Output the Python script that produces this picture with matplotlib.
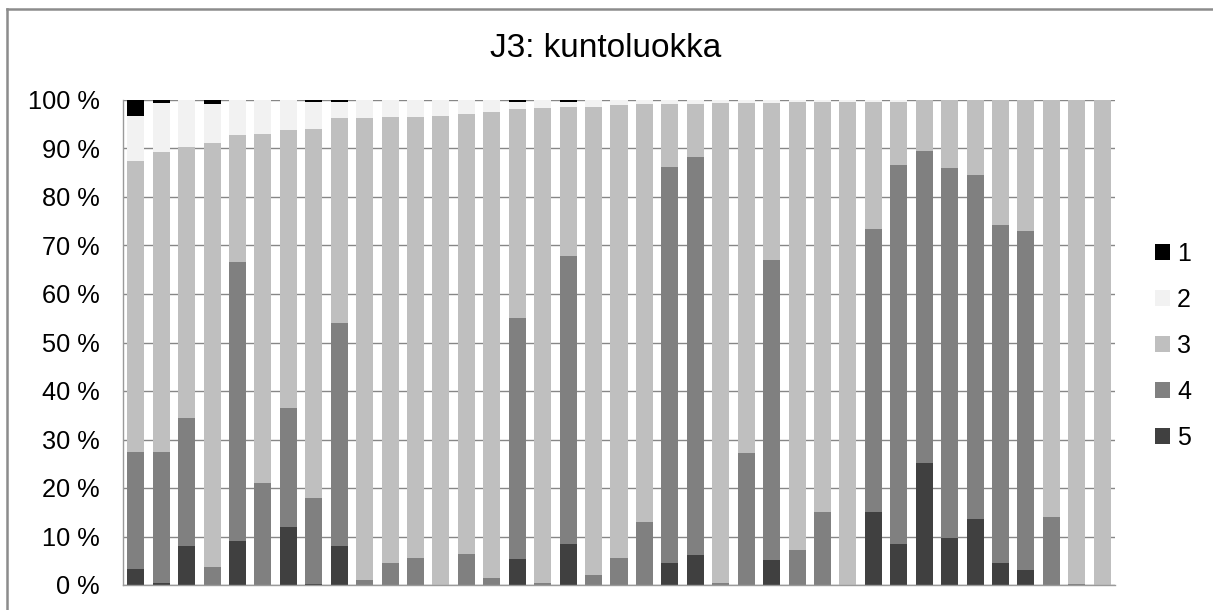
import numpy as np
import matplotlib
matplotlib.use('Agg')
import matplotlib.pyplot as plt
from matplotlib.lines import Line2D

plt.rcParams['font.family'] = ['Liberation Sans', 'DejaVu Sans']

# Share of each condition class (1..5) per bar, in percent
luokka_5 = [3.3, 0.4, 8.0, 0, 9.1, 0, 12.0, 0.3, 8.0, 0, 0, 0, 0, 0, 0, 5.4, 0, 8.5, 0, 0,
            0, 4.5, 6.1, 0, 0, 5.1, 0, 0, 0, 15.1, 8.5, 25.2, 9.6, 13.6, 4.5, 3.0, 0, 0, 0]
luokka_4 = [24.2, 27.1, 26.5, 3.8, 57.4, 21.0, 24.4, 17.7, 46.1, 1.1, 4.5, 5.6, 0, 6.4, 1.4,
            49.7, 0.4, 59.3, 2.1, 5.6, 13.0, 81.7, 82.2, 0.4, 27.3, 62.0, 7.2, 15.1, 0, 58.3,
            78.0, 64.2, 76.3, 71.0, 69.8, 70.0, 14.0, 0.3, 0]
luokka_3 = [59.9, 61.8, 55.9, 87.4, 26.3, 72.0, 57.5, 76.1, 42.1, 95.1, 92.0, 90.9, 96.8, 90.8,
            96.1, 43.0, 97.9, 30.8, 96.5, 93.3, 86.2, 13.0, 10.9, 99.0, 72.1, 32.3, 92.4, 84.5,
            99.6, 26.2, 13.1, 10.6, 14.1, 15.4, 25.7, 27.0, 86.0, 99.7, 100]
luokka_2 = [9.4, 10.1, 9.6, 7.9, 7.2, 7.0, 6.1, 5.5, 3.4, 3.8, 3.5, 3.5, 3.2, 2.8, 2.5, 1.5, 1.7,
            1.0, 1.4, 1.1, 0.8, 0.8, 0.8, 0.6, 0.6, 0.6, 0.4, 0.4, 0.4, 0.4, 0.4, 0, 0, 0, 0, 0,
            0, 0, 0]
luokka_1 = [3.2, 0.6, 0, 0.9, 0, 0, 0, 0.4, 0.4, 0, 0, 0, 0, 0, 0, 0.4, 0, 0.4, 0, 0,
            0, 0, 0, 0, 0, 0, 0, 0, 0, 0, 0, 0, 0, 0, 0, 0, 0, 0, 0]

labels = ['5', '4', '3', '2', '1']
colors = ['#404040', '#808080', '#bfbfbf', '#f2f2f2', '#000000']
series = [luokka_5, luokka_4, luokka_3, luokka_2, luokka_1]

fig = plt.figure(figsize=(12.13, 6.10), dpi=100)
ax = fig.add_axes([123 / 1213, 1 - 585 / 610, (1115 - 123) / 1213, (585 - 100) / 610])

x = np.arange(len(luokka_5))
bottom = np.zeros(len(x))
handles = {}
for name, col, vals in zip(labels, colors, series):
    vals = np.array(vals, dtype=float)
    b = ax.bar(x, vals, bottom=bottom, width=0.67, color=col, linewidth=0, zorder=2)
    handles[name] = b
    bottom += vals

ax.set_xlim(-0.5, len(x) - 0.5)
ax.set_ylim(0, 100)
ax.set_yticks(np.arange(0, 101, 10))
ax.set_yticklabels(['{} %'.format(v) for v in range(0, 101, 10)], fontsize=18.3)
ax.tick_params(axis='y', length=0, pad=17)
ax.set_xticks([])
ax.yaxis.grid(True, color='#878787', linewidth=1.0, zorder=0)
ax.set_axisbelow(True)
for side in ['top', 'right']:
    ax.spines[side].set_visible(False)
for side in ['left', 'bottom']:
    ax.spines[side].set_color('#9a9a9a')
    ax.spines[side].set_linewidth(1.0)

# Title
fig.text(606 / 1213, 1 - 57 / 610, 'J3: kuntoluokka', ha='center', va='baseline',
         fontsize=24)

# Legend with 1 on top
order = ['1', '2', '3', '4', '5']
fig.legend([handles[k] for k in order], order, loc='upper left',
           bbox_to_anchor=(1155 / 1213, 1 - 242 / 610), frameon=False, fontsize=18,
           handlelength=0.58, handleheight=0.58, handletextpad=0.3,
           labelspacing=0.88, borderpad=0, borderaxespad=0)

# Chart area border (only top and left are inside the picture)
fig.add_artist(Line2D([7 / 1213, 7 / 1213], [0, 1 - 9 / 610], transform=fig.transFigure,
                      color='#8c8c8c', linewidth=1.8))
fig.add_artist(Line2D([7 / 1213, 1], [1 - 9 / 610, 1 - 9 / 610], transform=fig.transFigure,
                      color='#8c8c8c', linewidth=1.8))

plt.savefig('out.png', dpi=100)
